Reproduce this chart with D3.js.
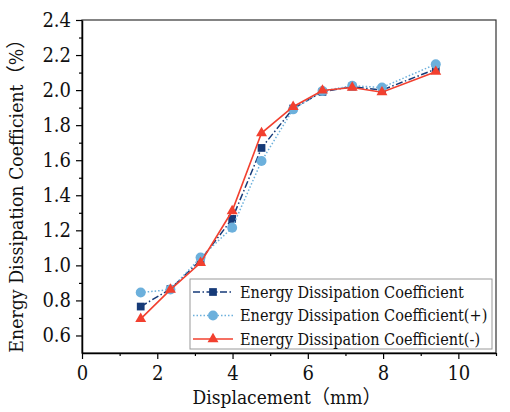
<!DOCTYPE html>
<html>
<head>
<meta charset="utf-8">
<script src="https://cdn.jsdelivr.net/npm/d3@7"></script>
<style>
  body { margin: 0; background: #fff; }
  svg { display: block; }
  svg text { font-family: "DejaVu Serif Condensed", "DejaVu Serif", "Noto Sans CJK SC", serif; }
  svg tspan.cjk { font-family: "Noto Sans CJK SC", sans-serif; }
</style>
</head>
<body>
<div id="chart"></div>
<script>
// displacement (mm)
let disp = [1.56, 2.35, 3.15, 3.99, 4.77, 5.61, 6.39, 7.18, 7.97, 9.40];
// energy dissipation coefficient series
let edcMean = [0.765, 0.865, 1.03, 1.265, 1.67, 1.895, 1.99, 2.02, 2.00, 2.12];
let edcPos  = [0.845, 0.862, 1.045, 1.215, 1.595, 1.89, 1.995, 2.025, 2.015, 2.148];
let edcNeg  = [0.695, 0.862, 1.015, 1.31, 1.755, 1.905, 1.998, 2.015, 1.988, 2.105];
let seriesNames = ["Energy Dissipation Coefficient", "Energy Dissipation Coefficient(+)", "Energy Dissipation Coefficient(-)"];
let xTicks = [0, 2, 4, 6, 8, 10];
let yTicks = [0.6, 0.8, 1.0, 1.2, 1.4, 1.6, 1.8, 2.0, 2.2, 2.4];

let width = 510, height = 412;
let margin = ({top: 20, right: 14, bottom: 59, left: 82});

const svg = d3.select("#chart").append("svg")
    .attr("width", width)
    .attr("height", height);

const x = d3.scaleLinear().domain([0, 11]).range([margin.left, width - margin.right]);
const y = d3.scaleLinear().domain([0.5, 2.4]).range([height - margin.bottom, margin.top]);

// frame (top and right)
svg.append("rect")
    .attr("x", x(0)).attr("y", y(2.4))
    .attr("width", x(11) - x(0)).attr("height", y(0.5) - y(2.4))
    .attr("fill", "none").attr("stroke", "#333").attr("stroke-width", 1.2);

// minor ticks
const xMinor = d3.range(1, 11.5, 2);
const yMinor = d3.range(0.7, 2.4, 0.2);

const xAxis = svg.append("g")
    .attr("transform", `translate(0,${y(0.5)})`)
    .call(d3.axisBottom(x).tickValues(xTicks).tickFormat(d3.format("d")).tickSize(6).tickSizeOuter(0));
svg.append("g")
    .attr("transform", `translate(0,${y(0.5)})`)
    .call(d3.axisBottom(x).tickValues(xMinor).tickFormat("").tickSize(3).tickSizeOuter(0))
    .call(g => g.select(".domain").remove());

const yAxis = svg.append("g")
    .attr("transform", `translate(${x(0)},0)`)
    .call(d3.axisLeft(y).tickValues(yTicks).tickFormat(d3.format(".1f")).tickSize(6).tickSizeOuter(0));
svg.append("g")
    .attr("transform", `translate(${x(0)},0)`)
    .call(d3.axisLeft(y).tickValues(yMinor).tickFormat("").tickSize(3).tickSizeOuter(0))
    .call(g => g.select(".domain").remove());

svg.selectAll("g").attr("font-family", null);
svg.selectAll(".domain").attr("stroke", "#000").attr("stroke-width", 1.5);
svg.selectAll(".tick line").attr("stroke", "#000").attr("stroke-width", 1.2);
xAxis.selectAll("text").attr("font-size", 20).attr("fill", "#111").attr("dy", "0.9em");
yAxis.selectAll("text").attr("font-size", 20).attr("fill", "#111").attr("dx", "-0.1em");

// axis titles (full-width brackets drawn from the CJK font)
function titleWithBrackets(t, main, inner) {
  t.append("tspan").text(main);
  t.append("tspan").attr("class", "cjk").text("（");
  t.append("tspan").text(inner);
  t.append("tspan").attr("class", "cjk").text("）");
}

svg.append("text")
    .attr("x", 287).attr("y", 404)
    .attr("text-anchor", "middle")
    .attr("font-size", 19).attr("fill", "#111")
    .call(titleWithBrackets, "Displacement", "mm");

svg.append("text")
    .attr("transform", `translate(23,191) rotate(-90)`)
    .attr("text-anchor", "middle")
    .attr("font-size", 19.3).attr("fill", "#111")
    .call(titleWithBrackets, "Energy Dissipation Coefficient", "%");

const series = [
  {name: seriesNames[0], values: edcMean, color: "#163a78", dash: "7,2.5,1.5,2.5", marker: "square", width: 1.5},
  {name: seriesNames[1], values: edcPos, color: "#6cb0dc", dash: "1.5,2", marker: "circle", width: 1.5},
  {name: seriesNames[2], values: edcNeg, color: "#f2402f", dash: null, marker: "triangle", width: 1.6}
];

const line = d3.line().x(d => x(d[0])).y(d => y(d[1]));
const symbols = {square: d3.symbolSquare, circle: d3.symbolCircle, triangle: d3.symbolTriangle};
const symSize = {square: 60, circle: 78, triangle: 52};

series.forEach(s => {
  const pts = disp.map((d, i) => [d, s.values[i]]);
  svg.append("path")
      .datum(pts)
      .attr("d", line)
      .attr("fill", "none")
      .attr("stroke", s.color)
      .attr("stroke-width", s.width)
      .attr("stroke-dasharray", s.dash);
  svg.append("g").selectAll("path")
    .data(pts)
    .join("path")
      .attr("transform", d => `translate(${x(d[0])},${y(d[1])})`)
      .attr("d", d3.symbol(symbols[s.marker], symSize[s.marker]))
      .attr("fill", s.color);
});

// legend
const lg = svg.append("g").attr("transform", "translate(190,279)");
lg.append("rect")
    .attr("width", 302).attr("height", 70)
    .attr("fill", "#fff").attr("stroke", "#999").attr("stroke-width", 1);
series.forEach((s, i) => {
  const yy = 13 + i * 23.5;
  lg.append("line")
      .attr("x1", 3).attr("x2", 43).attr("y1", yy).attr("y2", yy)
      .attr("stroke", s.color).attr("stroke-width", s.width)
      .attr("stroke-dasharray", s.dash);
  lg.append("path")
      .attr("transform", `translate(23,${yy})`)
      .attr("d", d3.symbol(symbols[s.marker], symSize[s.marker]))
      .attr("fill", s.color);
  lg.append("text")
      .attr("x", 50).attr("y", yy).attr("dy", "0.35em")
      .attr("font-size", 16.1).attr("fill", "#111")
      .text(s.name);
});
</script>
</body>
</html>
